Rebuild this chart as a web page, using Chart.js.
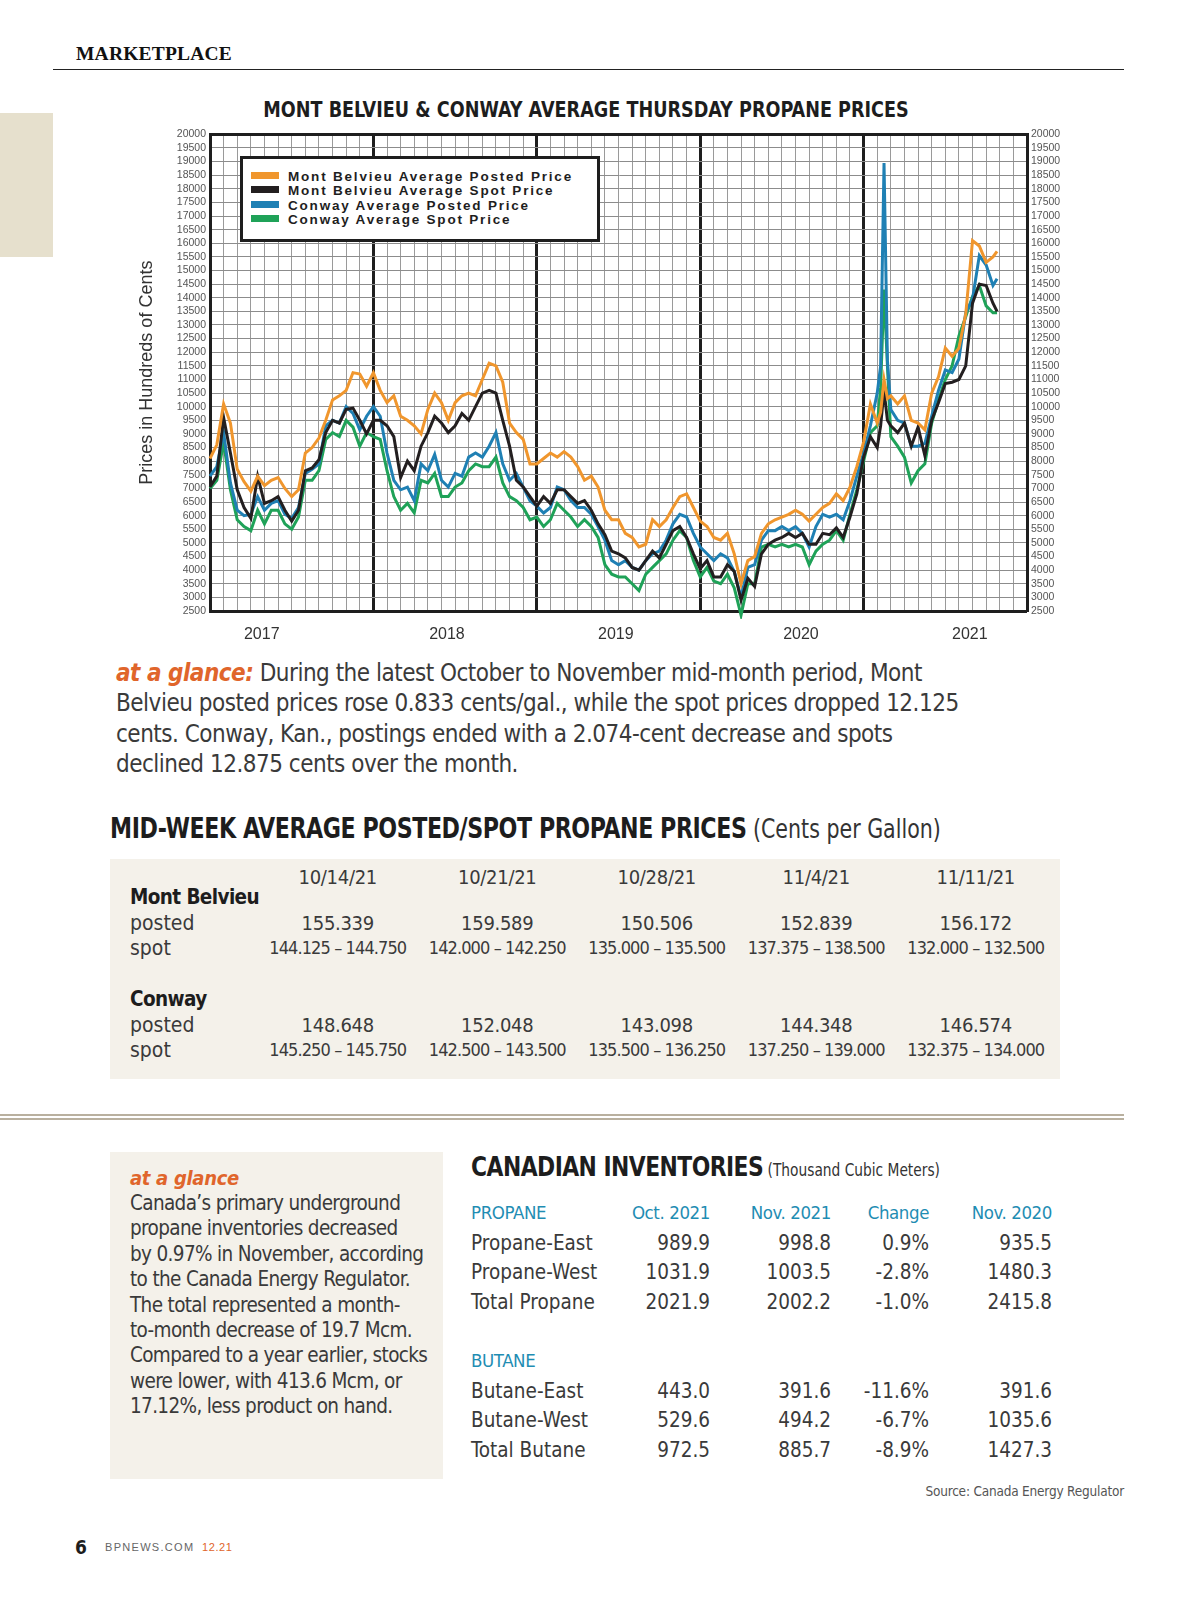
<!DOCTYPE html>
<html>
<head>
<meta charset="utf-8">
<script src="https://cdn.jsdelivr.net/npm/chart.js@4.4.1/dist/chart.umd.min.js"></script>
<style>
  body { margin: 0; width: 1200px; height: 1598px; position: relative; background: #fff; overflow: hidden;
         font-family: "Liberation Sans Narrow", "DejaVu Sans Condensed", sans-serif; color: #3a3a3a; }
  .abs { position: absolute; white-space: nowrap; }
  .head { font-weight: bold; color: #1d1d1d; }
  #tab { left: 0; top: 113px; width: 53px; height: 144px; background: #e6e0cd; }
  #market { left: 76px; top: 43px; font: bold 19.5px "Liberation Serif", serif; color: #111; letter-spacing: 0.2px; }
  #rule1 { left: 53px; top: 69px; width: 1071px; height: 0; border-top: 1.5px solid #222; }
  #title { left: 186px; width: 800px; top: 95px; line-height: 30px; text-align: center; font-size: 22px;
           transform: scaleX(0.89); transform-origin: 400px 50%; }
  #chartBox { left: 130px; top: 124px; width: 940px; height: 531px; }
  #legend { left: 240px; top: 156px; width: 354px; height: 80px; background: #fff; border: 3px solid #1e1e1e; }
  #legend div { position: absolute; left: 8px; height: 14px; line-height: 14px; font: bold 13.5px "Liberation Sans", Arial, sans-serif;
                letter-spacing: 1.8px; color: #1e1e1e; }
  #legend span { display: inline-block; width: 28px; height: 7px; margin-right: 9px; vertical-align: 2px; }
  #glance1 { left: 116px; top: 658px; font-size: 24px; line-height: 30.3px; letter-spacing: -0.5px; }
  .orange { color: #e0652b; font-weight: bold; font-style: italic; }
  #h2 { left: 110px; top: 812px; font-size: 28px; line-height: 34px; letter-spacing: -0.5px;
        transform: scaleX(0.88); transform-origin: 0 50%; }
  #h2 .sub { font-weight: normal; color: #333; letter-spacing: 0; font-size: 26px; }
  #t1bg { left: 110px; top: 859px; width: 950px; height: 220px; background: #f4f1ea; }
  .row { position: absolute; left: 130px; display: grid; grid-template-columns: 128px repeat(5, 159.5px); height: 26px; line-height: 26px;
         font-size: 20px; letter-spacing: -0.3px; }
  .row div { text-align: center; white-space: nowrap; }
  .row div:first-child { text-align: left; }
  .rng { font-size: 18px; letter-spacing: -0.9px; }
  .lbl { font-size: 21px; letter-spacing: 0; }
  .bold { font-weight: bold; color: #1d1d1d; font-size: 20.5px; letter-spacing: -0.6px; }
  #rule2 { left: 0; top: 1114px; width: 1124px; height: 2px; background: #b9b09f; }
  #rule3 { left: 0; top: 1118px; width: 1124px; height: 2px; background: #b9b09f; }
  #box2 { left: 110px; top: 1152px; width: 333px; height: 327px; background: #f4f1ea; }
  #glance2a { left: 130px; top: 1165px; font-size: 20px; line-height: 26px; letter-spacing: -0.3px; }
  #glance2 { left: 130px; top: 1191px; font-size: 20.5px; line-height: 25.4px; letter-spacing: -0.65px; }
  #h3 { left: 471px; top: 1150px; font-size: 27px; line-height: 34px; letter-spacing: -0.6px;
        transform: scaleX(0.9); transform-origin: 0 50%; }
  #h3 .sub { font-weight: normal; color: #333; letter-spacing: 0; font-size: 17px; }
  .irow { position: absolute; left: 471px; display: grid; grid-template-columns: 150px 89px 121px 98px 123px; height: 26px; line-height: 26px; font-size: 20.5px; }
  .irow div { text-align: right; white-space: nowrap; }
  .irow div:first-child { text-align: left; }
  .teal { color: #1f8db3; font-size: 18.5px; letter-spacing: -0.4px; }
  #source { right: 76px; top: 1483px; font-size: 13.5px; color: #555; letter-spacing: -0.2px; }
  #pg { left: 75px; top: 1536px; font-size: 19px; font-weight: bold; color: #1d1d1d; }
  #site { left: 105px; top: 1541px; font: 11px "Liberation Sans", sans-serif; letter-spacing: 1.3px; color: #666; }
  #issue { left: 202px; top: 1541px; font: 11px "Liberation Sans", sans-serif; letter-spacing: 0.6px; color: #e0652b; }
</style>
</head>
<body>
<div class="abs" id="tab"></div>
<div class="abs" id="market">MARKETPLACE</div>
<div class="abs" id="rule1"></div>
<div class="abs head" id="title">MONT BELVIEU &amp; CONWAY AVERAGE THURSDAY PROPANE PRICES</div>
<div class="abs" id="chartBox"><canvas id="propane" width="940" height="531"></canvas></div>
<div class="abs" id="legend"></div>

<div class="abs" id="glance1"><span class="orange">at a glance:</span> During the latest October to November mid-month period, Mont<br>Belvieu posted prices rose 0.833 cents/gal., while the spot prices dropped 12.125<br>cents. Conway, Kan., postings ended with a 2.074-cent decrease and spots<br>declined 12.875 cents over the month.</div>

<div class="abs head" id="h2">MID-WEEK AVERAGE POSTED/SPOT PROPANE PRICES<span class="sub"> (Cents per Gallon)</span></div>
<div class="abs" id="t1bg"></div>
<div class="row" style="top:864px"><div></div><div>10/14/21</div><div>10/21/21</div><div>10/28/21</div><div>11/4/21</div><div>11/11/21</div></div>
<div class="row" style="top:884px"><div class="bold">Mont Belvieu</div></div>
<div class="row" style="top:910px"><div class="lbl">posted</div><div>155.339</div><div>159.589</div><div>150.506</div><div>152.839</div><div>156.172</div></div>
<div class="row rng" style="top:935px"><div class="lbl">spot</div><div>144.125 – 144.750</div><div>142.000 – 142.250</div><div>135.000 – 135.500</div><div>137.375 – 138.500</div><div>132.000 – 132.500</div></div>
<div class="row" style="top:986px"><div class="bold">Conway</div></div>
<div class="row" style="top:1012px"><div class="lbl">posted</div><div>148.648</div><div>152.048</div><div>143.098</div><div>144.348</div><div>146.574</div></div>
<div class="row rng" style="top:1037px"><div class="lbl">spot</div><div>145.250 – 145.750</div><div>142.500 – 143.500</div><div>135.500 – 136.250</div><div>137.250 – 139.000</div><div>132.375 – 134.000</div></div>

<div class="abs" id="rule2"></div>
<div class="abs" id="rule3"></div>
<div class="abs" id="box2"></div>
<div class="abs orange" id="glance2a">at a glance</div>
<div class="abs" id="glance2">Canada’s primary underground<br>propane inventories decreased<br>by 0.97% in November, according<br>to the Canada Energy Regulator.<br>The total represented a month-<br>to-month decrease of 19.7 Mcm.<br>Compared to a year earlier, stocks<br>were lower, with 413.6 Mcm, or<br>17.12%, less product on hand.</div>

<div class="abs head" id="h3">CANADIAN INVENTORIES<span class="sub"> (Thousand Cubic Meters)</span></div>
<div class="irow teal" style="top:1200px"><div>PROPANE</div><div>Oct. 2021</div><div>Nov. 2021</div><div>Change</div><div>Nov. 2020</div></div>
<div class="irow" style="top:1230px"><div>Propane-East</div><div>989.9</div><div>998.8</div><div>0.9%</div><div>935.5</div></div>
<div class="irow" style="top:1259px"><div>Propane-West</div><div>1031.9</div><div>1003.5</div><div>-2.8%</div><div>1480.3</div></div>
<div class="irow" style="top:1289px"><div>Total Propane</div><div>2021.9</div><div>2002.2</div><div>-1.0%</div><div>2415.8</div></div>
<div class="irow teal" style="top:1348px"><div>BUTANE</div></div>
<div class="irow" style="top:1378px"><div>Butane-East</div><div>443.0</div><div>391.6</div><div>-11.6%</div><div>391.6</div></div>
<div class="irow" style="top:1407px"><div>Butane-West</div><div>529.6</div><div>494.2</div><div>-6.7%</div><div>1035.6</div></div>
<div class="irow" style="top:1437px"><div>Total Butane</div><div>972.5</div><div>885.7</div><div>-8.9%</div><div>1427.3</div></div>
<div class="abs" id="source">Source: Canada Energy Regulator</div>

<div class="abs" id="pg">6</div>
<div class="abs" id="site">BPNEWS.COM</div>
<div class="abs" id="issue">12.21</div>

<script>
// weekly Thursday prices, sampled about twice a month; x = months since start of chart
const months = [
  0, 0.5, 1, 1.5, 2, 2.5, 3, 3.5, 4, 4.5, 5, 5.5, 6, 6.5, 7, 7.5, 8, 8.5, 9, 9.5, 10, 10.5, 11, 11.5,
  12, 12.5, 13, 13.5, 14, 14.5, 15, 15.5, 16, 16.5, 17, 17.5, 18, 18.5, 19, 19.5, 20, 20.5, 21, 21.5, 22, 22.5, 23, 23.5,
  24, 24.5, 25, 25.5, 26, 26.5, 27, 27.5, 28, 28.5, 29, 29.5, 30, 30.5, 31, 31.5, 32, 32.5, 33, 33.5, 34, 34.5, 35, 35.5,
  36, 36.5, 37, 37.5, 38, 38.5, 39, 39.5, 40, 40.5, 41, 41.5, 42, 42.5, 43, 43.5, 44, 44.5, 45, 45.5, 46, 46.5, 47, 47.5,
  48, 48.5, 49, 49.25, 49.5, 49.75, 50, 50.5, 51, 51.5, 52, 52.5, 53, 53.5, 54, 54.5, 55, 55.5, 56, 56.5, 57, 57.5, 57.8
];

const mbPosted = [
  8100, 8600, 10100, 9400, 7700, 7250, 6900, 7450, 7100, 7300, 7400, 7000, 6700, 6950, 8300, 8500, 8850, 9500, 10250, 10400, 10600, 11250, 11200, 10750,
  11250, 10600, 10150, 10400, 9650, 9500, 9300, 9000, 9900, 10500, 10150, 9500, 10150, 10400, 10500, 10400, 11000, 11600, 11500, 10900, 9400, 9050, 8800, 7900,
  7900, 8100, 8300, 8150, 8350, 8150, 7800, 7300, 7450, 7050, 6200, 5850, 5850, 5350, 5200, 4850, 4950, 5850, 5600, 5850, 6300, 6700, 6800, 6300,
  5800, 5600, 5200, 5100, 5350, 4600, 3500, 4350, 4500, 5350, 5700, 5850, 5950, 6050, 6200, 6050, 5800, 6050, 6300, 6450, 6800, 6550, 7050, 7800,
  8700, 10100, 9400, 9800, 11000, 10300, 10400, 10100, 10400, 9500, 9400, 9150, 10500, 11100, 12150, 11850, 12150, 13400, 16100, 15900, 15300, 15500, 15700
];
const mbSpot = [
  7050, 7450, 9600, 8300, 6950, 6300, 5900, 7450, 6450, 6550, 6700, 6200, 5800, 6200, 7650, 7750, 8050, 9050, 9500, 9400, 9900, 9950, 9500, 9000,
  9500, 9500, 9300, 8900, 7400, 8000, 7650, 8550, 9050, 9650, 9400, 9050, 9300, 9750, 9500, 10000, 10500, 10600, 10500, 9500, 8550, 7300, 7050, 6700,
  6350, 6700, 6450, 6950, 6950, 6700, 6450, 6550, 6200, 5700, 5300, 4700, 4600, 4450, 4100, 4000, 4350, 4700, 4450, 4950, 5450, 5600, 5200, 4600,
  4050, 4350, 3750, 3750, 4200, 3950, 2900, 3700, 3400, 4600, 4950, 5100, 5200, 5350, 5200, 5350, 4950, 4950, 5350, 5300, 5550, 5200, 5950, 6800,
  8150, 8900, 8500, 9300, 10600, 9500, 9300, 9050, 9400, 8550, 9250, 8200, 9500, 10150, 10850, 10900, 11000, 11500, 13800, 14500, 14450, 13800, 13500
];
const cwPosted = [
  7450, 7800, 9050, 7200, 6200, 6000, 6050, 6700, 6200, 6450, 6550, 6050, 5900, 6300, 7550, 7700, 7900, 9300, 9500, 9400, 10000, 9750, 9150, 9650,
  10000, 9650, 8300, 7300, 6950, 7050, 6550, 7900, 7650, 8250, 7300, 7050, 7550, 7450, 8150, 8300, 8150, 8550, 9050, 7900, 7300, 7550, 7050, 6550,
  6350, 6100, 6300, 7050, 6950, 6550, 6300, 6300, 6050, 5600, 5100, 4350, 4200, 4350, 4100, 4000, 4350, 4600, 4700, 5100, 5700, 6050, 5950, 5350,
  4850, 4600, 4350, 4600, 4450, 3950, 3000, 4100, 4200, 5100, 5450, 5450, 5600, 5450, 5600, 5350, 4850, 5600, 6050, 5950, 6050, 5850, 6550, 7450,
  8300, 9300, 10500, 11500, 18950, 11700, 9900, 9500, 9400, 8550, 8550, 8650, 9650, 10600, 11350, 11250, 11750, 13450, 13950, 15550, 15200, 14450, 14700
];
const cwSpot = [
  7000, 7300, 8700, 6950, 5850, 5600, 5450, 6200, 5700, 6200, 6200, 5700, 5500, 5950, 7300, 7300, 7650, 8800, 9050, 8900, 9500, 9250, 8550, 9050,
  8900, 8800, 7650, 6700, 6200, 6450, 6100, 7300, 7200, 7550, 6700, 6700, 7050, 7200, 7650, 7900, 7800, 7800, 8150, 7200, 6700, 6550, 6300, 5850,
  5950, 5600, 5850, 6450, 6200, 5950, 5600, 5850, 5600, 5200, 4200, 3850, 3750, 3750, 3500, 3250, 3850, 4100, 4350, 4600, 5100, 5450, 5200, 4350,
  3750, 4100, 3600, 3500, 3850, 3350, 2350, 3500, 3500, 4850, 4950, 4850, 4950, 4850, 4950, 4850, 4200, 4700, 4950, 5100, 5450, 5100, 6050, 6950,
  8000, 9050, 9300, 10700, 14300, 11500, 8900, 8550, 8150, 7200, 7650, 7900, 9400, 10250, 11000, 11500, 12600, 13300, 14050, 14450, 13700, 13450, 13450
];

const seriesNames = ['Mont Belvieu Average Posted Price', 'Mont Belvieu Average Spot Price', 'Conway Average Posted Price', 'Conway Average Spot Price'];
const yearLabels = ['2017', '2018', '2019', '2020', '2021'];
const yearTickAt = [3.8, 17.4, 29.8, 43.4, 55.8];

const colors = ['#f0962d', '#231f20', '#1f80b4', '#1fa258'];
const thick = '#1e1e1e';

function points(vals) {
  return months.map((m, i) => ({ x: m, y: vals[i] }));
}

const yTicks = {
  stepSize: 500,
  autoSkip: false,
  padding: 4,
  color: '#555',
  font: { family: '"Liberation Sans", Arial, sans-serif', size: 10.5 },
  callback: v => String(v)
};

const chart = new Chart(document.getElementById('propane'), {
  type: 'line',
  data: {
    datasets: [mbPosted, mbSpot, cwPosted, cwSpot].map((vals, i) => ({
      label: seriesNames[i],
      data: points(vals),
      borderColor: colors[i],
      backgroundColor: colors[i],
      borderWidth: 3,
      pointRadius: 0,
      tension: 0,
      clip: 8
    }))
  },
  options: {
    responsive: false,
    animation: false,
    layout: { padding: 0 },
    plugins: {
      legend: { display: false },
      tooltip: { enabled: false }
    },
    scales: {
      x: {
        type: 'linear', min: 0, max: 60, position: 'bottom',
        ticks: { display: false, stepSize: 1, autoSkip: false, maxTicksLimit: 100 },
        grid: {
          drawTicks: false,
          color: c => (c.tick && c.tick.value % 12 === 0) ? thick : '#9a9a9a',
          lineWidth: c => (c.tick && c.tick.value % 12 === 0) ? 3 : 1
        },
        border: { display: false },
        afterFit: s => { s.height = 0; }
      },
      yr: {
        type: 'linear', min: 0, max: 60, position: 'bottom',
        grid: { display: false },
        border: { display: false },
        afterBuildTicks: s => { s.ticks = yearTickAt.map(v => ({ value: v })); },
        ticks: {
          autoSkip: false, maxRotation: 0, padding: 6, color: '#333',
          font: { family: '"Liberation Sans", Arial, sans-serif', size: 16 },
          callback: (v, i) => yearLabels[i]
        },
        afterFit: s => { s.height = 44; }
      },
      y: {
        min: 2500, max: 20000, position: 'left',
        ticks: yTicks,
        grid: {
          drawTicks: false,
          color: c => (c.tick && (c.tick.value === 20000 || c.tick.value === 2500)) ? thick : '#8c8c8c',
          lineWidth: c => (c.tick && (c.tick.value === 20000 || c.tick.value === 2500)) ? 3 : 1
        },
        border: { color: thick, width: 3 },
        title: {
          display: true, text: 'Prices in Hundreds of Cents', color: '#333', padding: { top: 6, bottom: 0 },
          font: { family: '"Liberation Sans", Arial, sans-serif', size: 18 }
        },
        afterFit: s => { s.width = 80; }
      },
      y2: {
        min: 2500, max: 20000, position: 'right',
        ticks: yTicks,
        grid: { display: false, drawTicks: false },
        border: { color: thick, width: 3 },
        afterFit: s => { s.width = 43; }
      }
    }
  }
});

// legend box drawn over the plot, built from the datasets
const legend = document.getElementById('legend');
chart.data.datasets.forEach((ds, i) => {
  const item = document.createElement('div');
  item.style.top = (10 + i * 14.3) + 'px';
  item.innerHTML = '<span style="background:' + ds.borderColor + '"></span>' + ds.label;
  legend.appendChild(item);
});
</script>
</body>
</html>
